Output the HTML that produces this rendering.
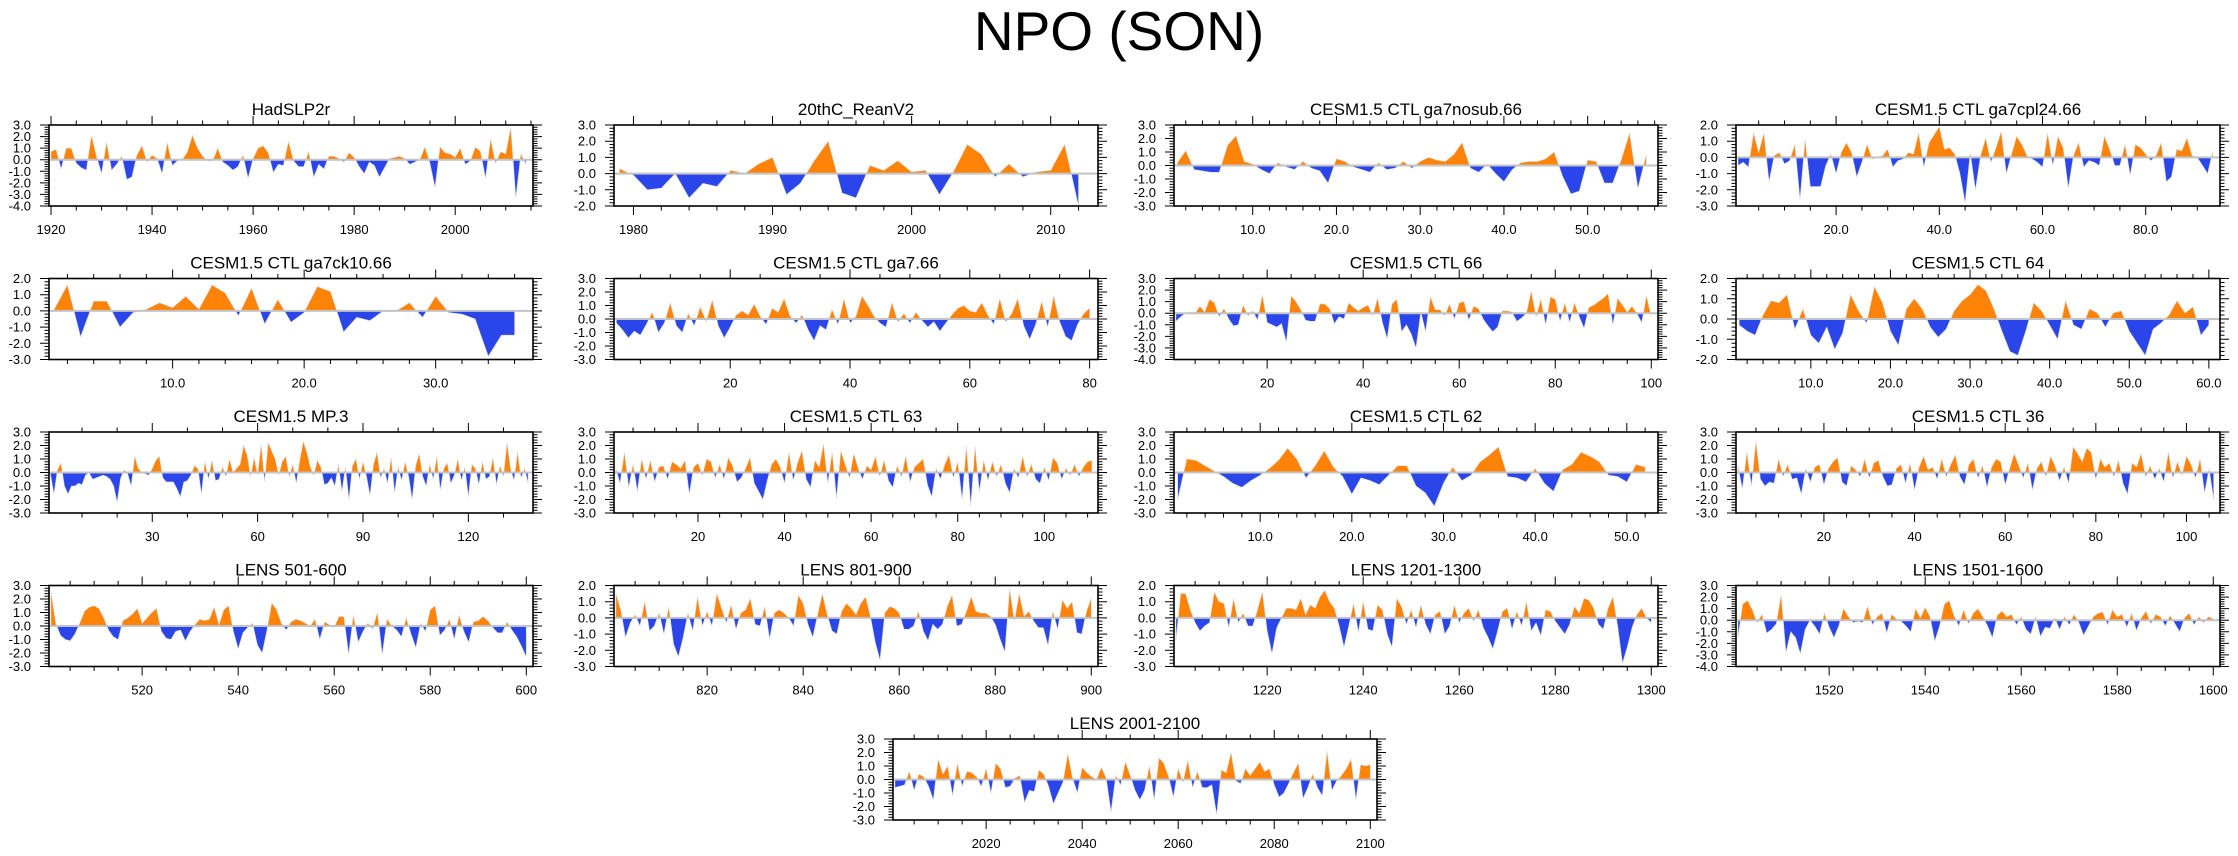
<!DOCTYPE html>
<html><head><meta charset="utf-8">
<style>
html,body{margin:0;padding:0;background:#fff;}
svg{display:block;font-family:"Liberation Sans",Arial,sans-serif;}
</style></head>
<body>
<svg id="chart" width="2238" height="856" viewBox="0 0 2238 856">
<text x="1119" y="50" text-anchor="middle" font-size="55" fill="#000">NPO (SON)</text>
</svg>
<script>
const hadslp = [0.7,0.9,-0.8,1.0,1.0,-0.3,-0.7,-0.9,2.1,0.3,-1.2,1.5,-0.9,-0.4,0.3,-1.7,-1.5,0.4,1.2,-0.2,0.4,0.1,-1.2,1.5,-0.5,-0.1,0.0,0.7,2.1,1.0,0.3,-0.1,-0.1,1.0,-0.2,-0.5,-0.9,-0.6,0.4,-1.6,0.1,1.0,1.2,0.6,-1.1,-0.4,-0.5,1.6,-0.1,-0.6,-0.6,0.7,-1.5,-0.4,-0.8,0.3,0.3,0.1,-0.2,0.6,0.2,-0.6,-1.2,-0.2,-0.5,-1.5,-0.7,0.1,0.2,0.3,0.1,-0.4,-0.2,0.0,1.1,-0.3,-2.4,1.1,0.6,0.5,0.2,1.0,-0.4,-0.1,1.1,0.7,-1.6,1.8,-0.3,0.7,0.5,2.8,-3.3,0.5,-0.4];
const reanv2 = [0.3,-0.1,-1.0,-0.9,0.0,-1.5,-0.6,-0.8,0.2,0.0,0.6,1.0,-1.3,-0.6,0.8,2.0,-1.2,-1.5,0.5,0.2,0.8,0.1,0.2,-1.3,0.1,1.8,1.2,-0.2,0.6,-0.2,0.1,0.2,1.8,-2.0];
const nosub = [0.2,1.1,-0.3,-0.4,-0.5,-0.5,1.5,2.2,0.3,0.1,-0.3,-0.6,0.2,-0.1,-0.3,0.3,-0.2,-0.4,-1.3,0.5,0.3,-0.1,-0.3,-0.5,0.2,-0.3,-0.2,0.3,-0.2,0.3,0.6,0.4,0.3,0.8,1.7,-0.2,-0.5,0.1,-0.6,-1.2,-0.3,0.2,0.3,0.3,0.5,1.0,-0.8,-2.1,-1.9,0.4,0.3,-1.3,-1.3,0.4,2.4,-1.7,0.8];
const cpl24 = [-0.5,-0.3,-0.6,1.5,0.3,1.5,-1.5,0.1,0.3,-0.4,-0.2,0.8,-2.6,1.1,-1.8,-1.8,-1.8,-0.5,0.2,-1.0,0.3,0.9,0.3,-1.2,-0.3,0.8,-0.1,0.0,0.1,0.5,-0.6,-0.2,-0.1,0.3,0.2,1.5,-0.6,0.9,1.4,1.9,0.5,0.6,0.2,-1.0,-2.8,0.3,-2.0,0.1,1.2,-0.3,0.6,1.6,-1.0,0.2,1.3,0.8,0.1,-0.1,-0.3,-0.6,1.5,-0.5,1.3,0.6,-1.9,0.1,0.9,-0.6,-0.2,-0.3,-0.5,1.3,0.5,-0.5,-0.5,0.8,-1.1,0.8,0.6,0.2,-0.2,0.1,0.9,-1.5,-1.2,0.5,0.4,1.2,0.1,0.0,-0.5,-1.0,0.4];
const ck10 = [0.1,1.6,-1.6,0.6,0.6,-1.0,-0.1,0.1,0.5,0.2,0.9,0.1,1.6,1.1,-0.3,1.4,-0.8,0.7,-0.7,-0.1,1.5,1.2,-1.3,-0.4,-0.6,0.0,0.0,0.5,-0.4,0.9,-0.1,-0.2,-0.5,-2.8,-1.5,-1.5];
const ga7 = [-0.3,-0.8,-1.4,-0.9,-1.2,-0.4,0.5,-1.0,-0.3,1.2,-0.5,-1.0,0.4,-0.5,0.9,-0.2,1.4,-0.5,-1.4,-0.6,0.3,0.6,0.3,1.1,0.2,-0.4,0.8,0.5,1.5,0.2,-0.3,0.3,-0.8,-1.6,-0.5,-0.8,0.7,-0.4,1.5,-0.3,0.2,1.7,1.0,0.2,-0.3,-0.6,1.2,-0.2,0.4,-0.3,0.5,-0.1,-0.6,-0.2,-0.9,-0.3,0.3,0.8,1.0,0.6,0.5,1.2,0.3,-0.4,1.5,-0.2,0.4,1.5,-0.5,-1.5,-0.4,1.3,-0.6,1.7,-0.2,-1.3,-1.6,-0.4,0.4,0.8];
const ctl66 = [-0.7,-0.3,0.0,0.1,0.0,0.6,0.1,1.2,0.9,-0.3,0.4,-0.5,-1.1,-1.0,0.7,-0.2,0.2,-0.6,1.6,-0.8,-1.0,-1.2,-0.9,-2.5,1.5,1.0,0.3,-0.6,-0.7,-0.7,0.8,0.8,0.4,-0.9,-0.3,-0.5,0.9,0.5,0.2,0.5,0.7,-0.2,1.3,-0.8,-2.2,0.8,1.2,-1.6,-1.0,-1.8,-3.0,0.1,-1.6,1.4,0.3,0.3,-0.2,0.8,-0.5,0.9,1.0,-0.6,0.6,0.4,-0.5,-1.1,-1.6,-1.2,0.2,0.2,0.1,-0.7,-0.4,0.0,1.9,-0.3,1.2,-1.0,1.4,1.2,-0.7,0.9,-0.8,0.9,-0.3,-1.3,0.5,0.7,1.0,1.3,1.7,-1.0,1.3,0.7,0.1,0.6,0.0,-0.8,1.5,-0.3];
const ctl64 = [-0.3,-0.6,-0.8,0.2,0.9,0.8,1.2,-0.5,0.5,-0.8,-1.2,-0.4,-1.5,-0.7,1.2,0.4,-0.2,1.6,0.8,-0.6,-1.3,0.5,1.0,0.5,-0.4,-0.9,-0.5,0.4,0.9,1.2,1.7,1.4,0.5,-0.6,-1.6,-1.8,-0.6,0.8,0.4,-0.3,-1.0,0.9,-0.3,-0.5,0.5,0.3,-0.4,0.3,0.4,-0.6,-1.2,-1.8,-0.5,-0.2,0.2,0.9,0.3,0.6,-0.8,-0.3];
const mp3 = [-0.1,-1.6,0.2,0.7,-1.0,-1.6,-1.0,-1.0,-0.8,-0.9,-0.2,0.0,-0.5,-0.4,-0.3,-0.2,-0.3,-0.5,-1.0,-2.2,-0.4,0.2,-0.1,-1.0,1.2,0.3,0.0,-0.1,-0.2,0.3,0.9,1.2,-0.4,-0.7,-0.7,-0.7,-1.2,-1.8,-0.7,-0.6,-0.2,0.5,0.3,-1.6,0.8,-0.5,0.9,-0.6,-0.5,0.4,-0.3,1.0,0.0,0.3,0.6,2.0,1.3,-0.3,1.1,-0.2,2.1,-0.7,2.2,1.6,1.0,-0.2,0.8,1.2,-0.3,0.6,-0.8,0.9,2.3,1.5,0.4,-0.2,0.9,0.4,-0.9,-0.8,-0.4,-1.0,0.6,-1.4,0.4,-2.0,0.5,1.0,-0.5,0.8,-0.3,-1.7,0.6,1.5,-0.4,0.3,-0.8,1.1,-1.5,0.4,-0.6,0.8,-0.3,-2.0,0.5,1.4,-0.3,-1.0,0.6,-0.5,1.2,-1.3,0.3,0.7,-0.8,-0.2,1.0,-0.6,0.4,-1.8,0.6,0.3,-0.9,0.8,-0.5,-0.3,1.1,-0.9,0.5,-0.3,2.2,0.3,-0.6,1.5,-0.4,0.3,-0.8];
const ctl63 = [0.3,-0.8,1.5,-1.1,0.6,-1.4,1.0,-0.5,0.9,-0.7,0.4,0.5,-0.5,0.8,0.6,0.3,0.9,-1.6,0.4,0.7,-0.2,1.0,0.8,-0.4,0.6,-0.5,1.1,0.5,-0.7,-0.4,0.3,1.1,-0.8,-1.4,-2.0,-0.6,0.6,1.0,0.4,-0.8,1.5,-0.6,0.7,1.6,-0.5,-1.1,0.9,0.4,2.1,-0.8,1.5,-1.9,1.6,0.6,-0.4,1.4,0.3,-0.5,0.5,0.2,1.2,-0.3,0.9,-0.6,-1.1,0.5,-0.3,1.2,-0.7,0.4,0.7,1.0,-0.9,-1.8,0.3,-0.5,0.6,1.3,-0.4,0.8,-2.0,2.0,-2.5,1.9,-1.4,0.9,-0.6,0.8,-0.3,0.6,-0.8,-1.5,0.3,-0.4,1.2,-0.3,0.6,-0.5,-0.8,0.4,-0.6,1.1,0.7,-0.5,0.3,-0.2,0.6,-0.3,0.4,0.8,0.9];
const ctl62 = [-2.0,1.0,0.9,0.5,0.1,-0.3,-0.8,-1.1,-0.6,-0.2,0.3,0.9,1.8,1.0,-0.4,0.5,1.6,0.4,-0.3,-1.6,-0.4,-0.6,-0.9,-0.2,0.5,0.5,-1.0,-1.5,-2.5,-0.8,0.4,-0.6,-0.2,0.8,1.3,1.9,-0.3,-0.4,-0.7,0.3,-0.8,-1.4,0.2,0.6,1.5,1.2,0.8,-0.2,-0.3,-0.7,0.6,0.4];
const ctl36 = [0.5,-1.2,1.5,-1.0,2.3,-0.5,-1.0,-0.7,-0.8,1.0,-0.3,0.6,-0.5,-0.4,-1.6,0.3,-0.7,0.4,0.6,-0.9,0.3,0.8,1.1,-0.7,-1.0,0.5,0.2,-0.3,1.0,-0.4,0.7,0.9,-0.3,-1.0,-0.9,0.3,0.6,-0.8,0.7,-1.3,0.4,1.2,0.2,0.4,-0.5,1.0,-0.3,0.6,1.3,-0.3,-0.9,0.6,1.0,-0.4,0.5,-1.1,0.4,1.0,0.8,-0.9,0.3,1.4,0.5,-0.4,0.7,-1.3,0.3,0.8,-0.3,1.2,0.5,-0.6,0.4,-0.8,1.9,1.4,0.8,1.8,1.5,-0.5,1.0,0.4,0.7,-0.3,0.9,-0.8,-1.6,0.7,0.4,1.4,-0.3,0.5,-0.5,0.3,-0.7,1.5,-0.4,0.8,-0.2,1.2,0.6,-0.4,1.0,-1.5,0.3,-2.0];
const lens501 = [2.6,0.2,-0.7,-1.0,-1.1,-0.6,0.2,1.1,1.4,1.5,1.3,0.6,-0.3,-0.8,-1.0,0.4,0.6,0.9,1.3,0.2,0.6,1.0,1.3,-0.4,-0.9,-1.0,-0.4,-0.3,-1.1,-0.4,0.1,0.5,0.4,0.5,1.4,0.1,1.2,1.5,-0.4,-1.7,-0.5,-0.1,0.2,-1.4,-2.0,-0.3,1.7,1.2,0.2,-0.3,0.3,0.5,0.4,0.2,0.0,0.5,-1.0,0.3,0.1,-0.1,0.7,0.7,-2.1,0.8,-1.2,-0.4,0.2,-0.2,1.0,-2.1,0.5,0.0,-0.3,-0.8,0.6,-0.6,-1.6,0.2,-0.4,1.2,1.5,-0.7,-0.3,0.5,-1.0,0.8,-0.4,-1.2,0.3,0.4,0.7,0.4,-0.1,-0.5,-0.5,0.3,-0.3,-0.8,-1.5,-2.3];
const lens801 = [1.5,0.5,-1.2,-0.3,0.2,-0.5,1.0,-0.8,-0.5,0.3,-1.0,0.7,-1.6,-2.4,-1.2,0.3,-0.8,1.3,-0.5,0.4,-0.5,1.5,0.6,-0.3,0.8,-0.7,0.3,0.5,1.2,-0.4,-0.5,0.7,-1.3,0.3,0.5,0.3,0.0,-0.5,1.4,0.9,-0.4,-1.2,0.2,1.5,0.2,-0.8,-1.0,0.4,0.9,0.6,0.2,0.9,1.3,0.1,-1.5,-2.6,0.3,0.7,0.6,0.3,-0.7,-0.7,-0.5,0.4,-0.8,-1.4,-0.4,-0.7,-0.4,0.7,1.4,-0.5,-0.4,0.4,1.3,0.4,0.3,0.3,0.1,-0.4,-1.3,-2.1,1.8,-0.2,1.5,0.1,0.4,-0.2,-0.6,-0.6,-1.7,0.4,-0.7,1.1,0.6,1.0,-0.9,-1.0,0.4,1.2];
const lens1201 = [-1.4,1.5,1.5,0.5,-0.3,-0.8,-0.5,-0.3,1.6,1.0,0.9,-0.6,1.2,-0.3,0.3,-0.5,-0.5,0.5,1.6,-0.8,-2.2,-0.6,0.0,0.6,0.6,0.5,1.2,0.2,0.8,0.6,1.3,1.7,1.0,0.6,-0.5,-1.8,-0.5,0.9,-0.9,1.0,-0.7,-0.8,0.8,0.5,-1.0,-1.8,1.2,0.7,-0.4,0.5,-0.6,0.8,-0.4,-1.0,0.2,0.4,-1.0,-0.5,0.8,-0.3,0.3,0.6,-0.2,0.5,-0.6,-1.2,-1.9,-0.8,0.4,0.6,-0.7,0.4,-0.5,1.0,-0.8,-0.3,-1.1,0.5,0.4,-0.2,-0.6,-1.0,-0.4,0.7,0.3,1.2,1.1,0.6,-0.4,-0.7,0.6,1.3,-0.5,-2.8,-1.8,-0.6,0.2,0.6,0.0,-0.3];
const lens1501 = [-1.5,1.4,1.7,0.9,-0.2,0.5,-1.1,-0.8,-0.3,2.2,-2.8,-1.0,-1.5,-2.9,-0.8,0.0,-0.5,-1.2,0.6,-0.6,-1.5,-0.5,1.0,0.3,-0.2,-0.1,-0.2,1.2,-0.4,0.3,0.6,-1.1,0.5,0.1,-0.1,-0.5,-1.0,1.0,0.2,1.1,0.3,-1.8,-0.5,1.4,1.7,0.4,-0.5,0.9,-0.3,0.6,1.0,0.3,-0.5,-1.5,0.4,0.8,0.3,0.5,-0.4,0.3,-0.8,-1.2,0.3,-1.4,-0.6,-0.7,0.2,-0.8,0.3,-0.4,0.5,-0.2,-1.3,-0.5,0.3,0.6,0.7,-0.4,0.9,0.3,0.5,-0.6,0.6,-0.9,0.2,0.8,-0.3,0.5,0.3,-0.5,0.4,-0.3,-1.0,0.2,0.6,-0.4,0.3,-0.2,0.3,0.1];
const lens2001 = [-0.6,-0.5,-0.4,0.6,-0.8,0.4,0.2,-0.5,-1.5,1.5,0.4,1.0,-1.2,1.2,-0.5,0.6,0.5,0.2,-0.5,0.8,-1.0,1.2,0.8,-0.6,-0.5,0.1,0.3,-1.7,-0.8,-0.9,0.7,0.4,-0.5,-1.8,-1.0,-0.2,1.9,0.1,-1.0,0.9,0.5,0.2,0.0,0.9,0.1,-2.4,0.3,-0.4,1.3,0.3,-0.8,-1.5,-0.8,1.0,-1.5,1.6,1.2,0.2,-1.3,0.8,-0.2,1.4,-0.6,0.6,-0.6,-0.6,-0.4,-2.6,0.7,0.5,2.0,-0.1,-0.3,0.8,0.3,0.8,1.3,0.6,0.8,-0.4,-1.3,-1.0,-0.3,0.5,1.2,-1.4,-0.6,0.4,-0.6,-1.2,2.1,-0.8,-0.1,0.3,0.8,1.5,-1.5,1.1,1.0,1.1];

const panelTitles = ["HadSLP2r","20thC_ReanV2","CESM1.5 CTL ga7nosub.66","CESM1.5 CTL ga7cpl24.66","CESM1.5 CTL ga7ck10.66","CESM1.5 CTL ga7.66","CESM1.5 CTL 66","CESM1.5 CTL 64","CESM1.5 MP.3","CESM1.5 CTL 63","CESM1.5 CTL 62","CESM1.5 CTL 36","LENS 501-600","LENS 801-900","LENS 1201-1300","LENS 1501-1600","LENS 2001-2100"];
const panelSeries = [hadslp,reanv2,nosub,cpl24,ck10,ga7,ctl66,ctl64,mp3,ctl63,ctl62,ctl36,lens501,lens801,lens1201,lens1501,lens2001];
const panelStartX = [1920,1979,1,1,1,1,1,1,1,1,1,1,501,801,1201,1501,2001];
const panelYMin = [-4,-2,-3,-3,-3,-3,-4,-2,-3,-3,-3,-3,-3,-3,-3,-4,-3];
const panelYMax = [3,3,3,2,2,3,3,2,3,3,3,3,3,2,2,3,3];
const panelXTicks = [[1920,1940,1960,1980,2000],[1980,1990,2000,2010],[10,20,30,40,50],[20,40,60,80],[10,20,30],[20,40,60,80],[20,40,60,80,100],[10,20,30,40,50,60],[30,60,90,120],[20,40,60,80,100],[10,20,30,40,50],[20,40,60,80,100],[520,540,560,580,600],[820,840,860,880,900],[1220,1240,1260,1280,1300],[1520,1540,1560,1580,1600],[2020,2040,2060,2080,2100]];
const panelMinor = [5,2,2,5,2,5,5,2,10,5,2,5,5,5,5,5,5];
const panelDecimals = [0,0,1,1,1,0,0,1,0,0,1,0,0,0,0,0,0];

const NS = "http://www.w3.org/2000/svg";
const svg = document.getElementById("chart");
const colLeft = [49,614,1174,1736];
const rowTop = [125,278.5,432,585.5,739];
const BW = 484, BH = 81;
const ORANGE = "#ff8306", BLUE = "#2a46ea";

function mk(tag, attrs, parent){
  const e = document.createElementNS(NS, tag);
  for (const k in attrs) e.setAttribute(k, attrs[k]);
  (parent||svg).appendChild(e);
  return e;
}

panelSeries.forEach((data, p) => {
  const row = Math.floor(p/4), col = p%4;
  const L = p === 16 ? 893 : colLeft[col];
  const T = rowTop[row];
  const x0 = panelStartX[p], n = data.length;
  const dMin = x0 - 0.4, dMax = x0 + n - 1 + 1.4;
  const yMin = panelYMin[p], yMax = panelYMax[p];
  const sx = v => L + (v - dMin) / (dMax - dMin) * BW;
  const sy = v => T + (yMax - v) / (yMax - yMin) * BH;
  const g = mk("g", {});
  
  

  const title = mk("text", {x: L + BW/2, y: T - 10, "text-anchor": "middle", "font-size": 17}, g);
  title.textContent = panelTitles[p];
  
  

  // build segments with zero crossings
  const pts = data.map((v,i) => [x0 + i, v]);
  const y0 = sy(0);
  let posPath = "", negPath = "";
  function addPoly(arr, sign){
    if (arr.length < 2) return "";
    let d = "M" + sx(arr[0][0]).toFixed(2) + "," + y0.toFixed(2);
    arr.forEach(q => { d += "L" + sx(q[0]).toFixed(2) + "," + sy(q[1]).toFixed(2); });
    d += "L" + sx(arr[arr.length-1][0]).toFixed(2) + "," + y0.toFixed(2) + "Z";
    return d;
  }
  let cur = [], curSign = null;
  for (let i = 0; i < pts.length; i++) {
    const [x, v] = pts[i];
    const s = v >= 0 ? 1 : -1;
    if (curSign === null) { curSign = s; cur.push([x, v]); continue; }
    if (s !== curSign) {
      const [px, pv] = pts[i-1];
      const xc = px + (0 - pv) / (v - pv) * (x - px);
      cur.push([xc, 0]);
      if (curSign > 0) posPath += addPoly(cur); else negPath += addPoly(cur);
      cur = [[xc, 0]];
      curSign = s;
    }
    cur.push([x, v]);
  }
  if (curSign > 0) posPath += addPoly(cur); else negPath += addPoly(cur);

  const pos = mk("path", {d: posPath, fill: ORANGE, stroke: "#d8d8d8", "stroke-width": 0.6}, g);
  
  
  const neg = mk("path", {d: negPath, fill: BLUE, stroke: "#d8d8d8", "stroke-width": 0.6}, g);
  
  

  const zl = mk("line", {x1: L, x2: L + BW, y1: y0, y2: y0, stroke: "#c4c4c4", "stroke-width": 2}, g);
  
  

  const box = mk("rect", {x: L, y: T, width: BW, height: BH, fill: "none", stroke: "#000", "stroke-width": 1.6}, g);
  
  

  // ticks
  let tk = "";
  const step = panelMinor[p];
  for (let v = Math.ceil(dMin/step)*step; v <= dMax; v += step) {
    const X = sx(v).toFixed(2);
    const major = panelXTicks[p].indexOf(v) >= 0;
    const len = major ? 9 : 4.5;
    tk += "M" + X + "," + T + "v" + (-len) + "M" + X + "," + (T+BH) + "v" + len;
  }
  for (let v = yMin; v <= yMax + 1e-6; v += 0.2) {
    const Y = sy(v).toFixed(2);
    const major = Math.abs(v - Math.round(v)) < 1e-6;
    const len = major ? 9 : 4.5;
    tk += "M" + L + "," + Y + "h" + (-len) + "M" + (L+BW) + "," + Y + "h" + len;
  }
  const ticks = mk("path", {d: tk, stroke: "#000", "stroke-width": 1, fill: "none"}, g);
  
  

  panelXTicks[p].forEach(v => {
    const t = mk("text", {x: sx(v), y: T + BH + 28, "text-anchor": "middle", "font-size": 13}, g);
    t.textContent = v.toFixed(panelDecimals[p]);
    
    
  });
  for (let v = yMin; v <= yMax; v++) {
    const t = mk("text", {x: L - 18, y: sy(v) + 4.5, "text-anchor": "end", "font-size": 13}, g);
    t.textContent = v.toFixed(1);
    
    
  }
});
</script>
</body></html>
